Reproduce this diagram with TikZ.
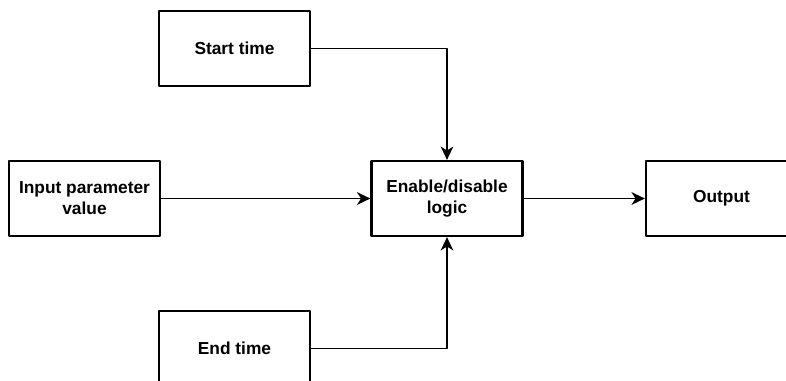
\documentclass[tikz,border=0pt]{standalone}
\usepackage{fontspec}
\setmainfont{Liberation Sans}
\usetikzlibrary{arrows.meta}
\begin{document}
\begin{tikzpicture}[x=0.75pt, y=-0.75pt, font=\fontsize{13}{15.6}\selectfont\bfseries, line join=round, >={Stealth[length=10pt,width=9.5pt,inset=3pt]},
	box/.style={draw, line width=1.7pt, minimum width=113.25pt, minimum height=56.25pt, align=center, inner sep=0pt},
	link/.style={->, line width=1.35pt}]
	\useasboundingbox (0,0) rectangle (786,380);
	\clip (0,0) rectangle (786,380);
	\node[box] (start) at (234.5,48.5) {Start time};
	\node[box] (input) at (84.5,198.5) {Input parameter\\value};
	\node[box] (logic) at (447,198.5) {Enable/disable\\logic};
	\node[box] (output) at (721.5,198.5) {Output};
	\node[box] (end) at (234.5,348.5) {End time};
	\draw[link] (start) -| (logic);
	\draw[link] (end) -| (logic);
	\draw[link] (input) -- (logic);
	\draw[link] (logic) -- (output);
\end{tikzpicture}
\end{document}
